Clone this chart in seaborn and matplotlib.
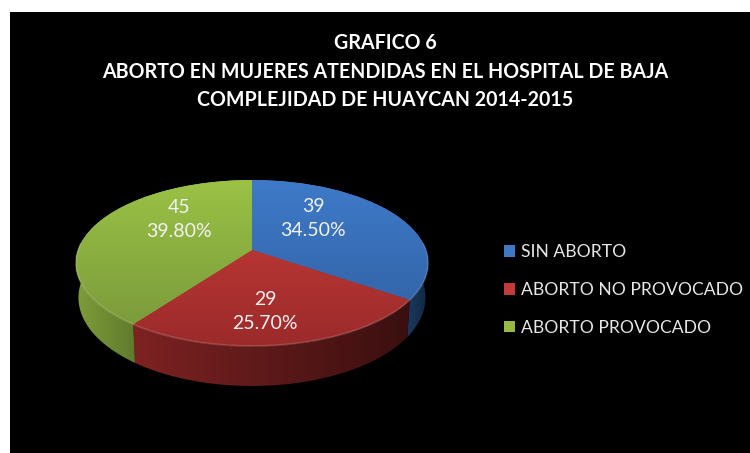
import numpy as np
import matplotlib
matplotlib.use("Agg")
import matplotlib.pyplot as plt
import seaborn as sns
from matplotlib.patches import Patch, Polygon
from matplotlib.transforms import Transform
from matplotlib.colors import LinearSegmentedColormap

categories = ["SIN ABORTO", "ABORTO NO PROVOCADO", "ABORTO PROVOCADO"]
counts = [39, 29, 45]
percent_labels = ["34.50%", "25.70%", "39.80%"]
title_lines = ["GRAFICO 6",
               "ABORTO EN MUJERES ATENDIDAS EN EL HOSPITAL DE BAJA",
               "COMPLEJIDAD DE HUAYCAN 2014-2015"]

top_colors = [("#3F7CCB", "#2F5D9E"), ("#CC3E3A", "#9A2A2A"), ("#9DC446", "#76953A")]
wall_colors = [("#1A3A60", "#12263F"), ("#7E2222", "#3A0F0F"), ("#7F9D3A", "#5F7A2C")]
legend_colors = ["#3F78C4", "#C23B38", "#96BA45"]
label_xy = [(313, 218.5), (265, 311.5), (179, 219.5)]

sns.set_theme(style="white")
plt.rcParams["font.family"] = ["Lato", "DejaVu Sans"]

CX, A, B, C, W = 252.0, 250.0, -41.8, 0.1566, 174.0
DEPTH = 40.0


class Perspective(Transform):
    input_dims = 2
    output_dims = 2
    is_separable = False
    has_inverse = False

    def transform_non_affine(self, values):
        u, v = values[:, 0], values[:, 1]
        d = 1 + C * v
        return np.column_stack([CX + W * u / d, (A + B * v) / d])


fig = plt.figure(figsize=(7.5, 4.53), dpi=100, facecolor="white")
ax = fig.add_axes([10 / 750, 0, 740 / 750, 441 / 453])

wedges, _ = ax.pie(counts, startangle=90, counterclock=False,
                   colors=[c[0] for c in top_colors])
ax.set_aspect("auto")
ax.set_frame_on(True)
ax.set_facecolor("black")
ax.set_xlim(10, 750)
ax.set_ylim(453, 12)
ax.set_xticks([])
ax.set_yticks([])
for s in ax.spines.values():
    s.set_visible(False)

proj = Perspective() + ax.transData


def rim(t):
    u, v = np.cos(t), np.sin(t)
    d = 1 + C * v
    x = CX + W * u / d
    y = (A + B * v) / d
    dep = DEPTH * (1 - C) / d
    return x, y, CX + (x - CX) * 0.985, y + dep


for w, tc, wc in zip(wedges, top_colors, wall_colors):
    # side wall and front bevel share the same visible arc
    lo, hi = max(w.theta1, -185), min(w.theta2, 5)
    t = np.radians(np.linspace(lo, hi, 120))
    x0, y0, x1, y1 = rim(t)
    poly = Polygon(np.column_stack([np.r_[x0, x1[::-1]], np.r_[y0, y1[::-1]]]),
                   closed=True, fc="none", ec="none", transform=ax.transData)
    ax.add_patch(poly)
    cm = LinearSegmentedColormap.from_list("w", list(wc))
    im = ax.imshow(np.linspace(0, 1, 256)[None, :], cmap=cm, aspect="auto",
                   extent=(min(x0.min(), x1.min()), max(x0.max(), x1.max()), 400, 230),
                   zorder=1)
    im.set_clip_path(poly)
    ax.plot(x0, y0, color="white", alpha=0.14, lw=1.4, zorder=4, solid_capstyle="butt")
    # top face
    w.set_transform(proj)
    w.set_edgecolor("none")
    w.set_zorder(2)
    cm = LinearSegmentedColormap.from_list("t", list(tc))
    im = ax.imshow(np.linspace(0, 1, 256)[:, None], cmap=cm, aspect="auto",
                   extent=(60, 440, 350, 170), origin="upper", zorder=3)
    im.set_clip_path(w)

ax.set_xlim(10, 750)
ax.set_ylim(453, 12)

for (x, y), n, p in zip(label_xy, counts, percent_labels):
    ax.text(x, y, f"{n}\n{p}", color="#F2F2F2", fontsize=14, ha="center", va="center",
            linespacing=1.55, zorder=6)

ax.text(385, 71.5, "\n".join(title_lines), color="white", fontsize=14.15, fontweight="bold",
        ha="center", va="center", linespacing=1.56, zorder=6)

handles = [Patch(facecolor=c, edgecolor="none") for c in legend_colors]
leg = ax.legend(handles, categories, loc="center left", bbox_to_anchor=(504, 290),
                bbox_transform=ax.transData, frameon=False, fontsize=12.6,
                labelcolor="#E6E6E6", handlelength=0.63, handleheight=0.63,
                handletextpad=0.34, labelspacing=1.25, borderpad=0, borderaxespad=0)
leg.set_zorder(6)

fig.savefig("out.png", dpi=100, facecolor="white")
